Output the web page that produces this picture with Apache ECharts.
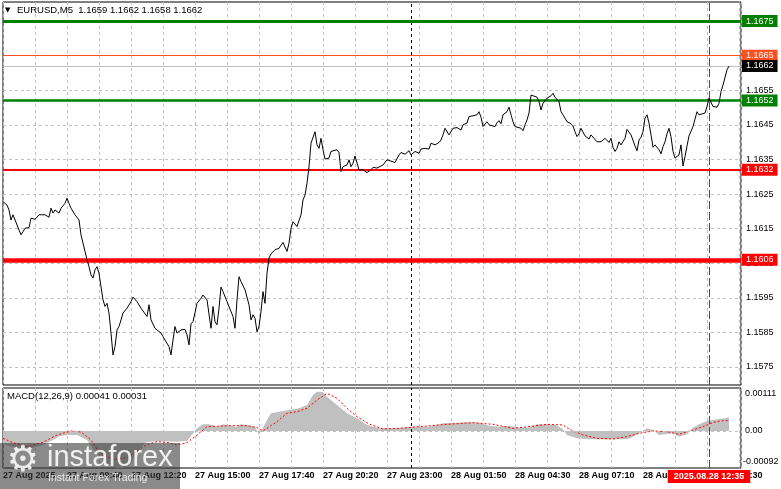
<!DOCTYPE html>
<html><head><meta charset="utf-8">
<script src="https://cdn.jsdelivr.net/npm/echarts@6/dist/echarts.min.js"></script>
<style>html,body{margin:0;padding:0;background:#fff}#c{width:781px;height:489px}</style>
</head><body><div id="c"></div>
<script>
// ---------- data ----------
const symbolTitle = 'EURUSD,M5  1.1659 1.1662 1.1658 1.1662';
const macdTitle = 'MACD(12,26,9) 0.00041 0.00031';
const timeLabels = ['27 Aug 2025','27 Aug 09:40','27 Aug 12:20','27 Aug 15:00','27 Aug 17:40','27 Aug 20:20','27 Aug 23:00','28 Aug 01:50','28 Aug 04:30','28 Aug 07:10','28 Aug 09:50','28 Aug 12:30'];
const barsPerLabel = 32;
const priceTicks = [1.1575,1.1585,1.1595,1.1605,1.1615,1.1625,1.1635,1.1645,1.1655,1.1665,1.1675];
const levelPrices = [1.1675,1.1665,1.1662,1.1652,1.1632,1.1606];
const levelLabels = ['1.1675','1.1665','1.1662','1.1652','1.1632','1.1606'];
const macdTicks = [0.00111,0,-0.00092];
const macdTickLabels = ['0.00111','0.00','-0.00092'];
const daySeparatorBar = 204;
const markerBar = 353;
const markerLabel = '2025.08.28 12:35';

const priceBars = [0,2,3,4,5,6,8,9,10,11,
13,14,16,18,19,21,23,24,25,26,
28,29,31,32,33,34,36,37,38,39,
40,41,42,43,44,45,46,47,48,49,
50,51,52,53,54,55,56,57,58,59,
60,62,64,65,67,69,70,72,73,74,
76,77,79,80,81,83,84,85,86,87,
89,90,91,92,93,94,95,97,99,100,
102,103,104,105,106,107,108,109,110,112,
113,115,116,117,118,119,121,123,124,125,
126,127,128,129,130,131,132,133,134,136,
138,139,140,142,143,144,145,147,149,150,
151,152,153,154,155,156,157,158,159,160,
161,163,164,165,167,168,169,170,172,173,
174,175,176,178,179,180,182,184,185,187,
188,190,192,193,196,198,199,201,203,204,
206,208,209,211,213,214,216,218,219,220,
221,222,223,225,227,229,230,232,233,234,
235,237,238,239,240,242,243,244,246,247,
248,249,250,252,253,254,255,256,257,259,
260,261,262,263,264,265,267,268,269,270,
272,273,274,275,276,278,279,280,281,282,
284,285,286,287,288,289,291,292,293,294,
295,297,299,300,301,303,304,305,306,307,
308,309,311,312,313,314,316,317,318,319,
320,321,322,323,324,325,326,328,329,330,
331,332,333,334,335,336,338,339,340,341,
342,343,344,345,347,348,349,351,352,353,
355,357,358,359,360,362,363];
const priceClose = [1.16228,1.16218,1.16204,1.16175,1.16190,1.16185,1.16146,1.16132,1.16141,1.16151,
1.16153,1.16180,1.16177,1.16190,1.16185,1.16190,1.16183,1.16209,1.16195,1.16204,
1.16195,1.16209,1.16223,1.16238,1.16223,1.16209,1.16190,1.16193,1.16175,1.16132,
1.16127,1.16084,1.16060,1.16040,1.16016,1.16007,1.16031,1.16040,1.16021,1.15982,
1.15944,1.15925,1.15934,1.15906,1.15848,1.15785,1.15809,1.15857,1.15867,1.15886,
1.15906,1.15920,1.15939,1.15952,1.15939,1.15920,1.15915,1.15896,1.15930,1.15886,
1.15862,1.15867,1.15848,1.15838,1.15828,1.15809,1.15785,1.15828,1.15867,1.15848,
1.15857,1.15852,1.15859,1.15843,1.15814,1.15875,1.15881,1.15934,1.15949,1.15958,
1.15944,1.15949,1.15862,1.15925,1.15881,1.15872,1.15920,1.15981,1.15968,1.15939,
1.15936,1.15896,1.15862,1.15944,1.16011,1.15997,1.15973,1.15930,1.15886,1.15901,
1.15891,1.15852,1.15867,1.15910,1.15968,1.15934,1.16021,1.16065,1.16077,1.16089,
1.16093,1.16098,1.16110,1.16084,1.16108,1.16151,1.16170,1.16156,1.16190,1.16233,
1.16247,1.16281,1.16329,1.16397,1.16401,1.16430,1.16392,1.16382,1.16411,1.16378,
1.16351,1.16354,1.16373,1.16373,1.16378,1.16370,1.16315,1.16329,1.16334,1.16349,
1.16329,1.16339,1.16360,1.16320,1.16315,1.16320,1.16312,1.16320,1.16327,1.16325,
1.16330,1.16334,1.16349,1.16354,1.16341,1.16363,1.16370,1.16365,1.16375,1.16363,
1.16373,1.16368,1.16380,1.16382,1.16380,1.16397,1.16392,1.16399,1.16406,1.16421,
1.16440,1.16435,1.16421,1.16440,1.16442,1.16435,1.16450,1.16455,1.16474,1.16479,
1.16476,1.16479,1.16488,1.16472,1.16445,1.16459,1.16450,1.16450,1.16445,1.16456,
1.16462,1.16453,1.16479,1.16488,1.16501,1.16479,1.16459,1.16445,1.16450,1.16440,
1.16433,1.16450,1.16464,1.16484,1.16536,1.16541,1.16530,1.16517,1.16493,1.16512,
1.16527,1.16524,1.16534,1.16541,1.16530,1.16517,1.16488,1.16479,1.16469,1.16459,
1.16453,1.16447,1.16430,1.16416,1.16424,1.16440,1.16418,1.16421,1.16409,1.16421,
1.16416,1.16401,1.16401,1.16401,1.16411,1.16399,1.16411,1.16385,1.16373,1.16382,
1.16401,1.16392,1.16411,1.16437,1.16435,1.16421,1.16389,1.16375,1.16406,1.16414,
1.16430,1.16469,1.16479,1.16455,1.16421,1.16385,1.16392,1.16378,1.16366,1.16387,
1.16401,1.16424,1.16440,1.16416,1.16373,1.16354,1.16363,1.16392,1.16331,1.16358,
1.16389,1.16418,1.16421,1.16445,1.16488,1.16479,1.16474,1.16484,1.16503,1.16527,
1.16503,1.16501,1.16512,1.16546,1.16565,1.16609,1.16620];

const histBars = [0,5,10,15,20,25,28,32,37,42,44,48,53,58,63,66,70,72,78,86,92,94,97,100,103,107,110,113,117,119,122,126,128,130,132,134,138,143,148,152,155,157,160,162,165,168,172,177,182,188,197,205,213,220,227,233,238,243,248,253,258,263,267,272,276,278,280,282,287,293,303,312,315,318,322,325,328,335,338,342,345,348,352,355,358,361,363];
const histValues = [-0.00040,-0.00048,-0.00052,-0.00050,-0.00042,-0.00027,-0.00016,-0.00012,-0.00012,-0.00027,-0.00045,-0.00075,-0.00100,-0.00115,-0.00105,-0.00075,-0.00042,-0.00033,-0.00030,-0.00032,-0.00030,-0.00015,0.00008,0.00020,0.00020,0.00013,0.00020,0.00016,0.00013,0.00020,0.00018,0.00013,-0.00012,0.00010,0.00033,0.00053,0.00058,0.00063,0.00068,0.00078,0.00108,0.00118,0.00117,0.00103,0.00088,0.00073,0.00053,0.00038,0.00018,0.00008,0.00008,0.00013,0.00013,0.00023,0.00025,0.00026,0.00025,0.00016,0.00013,0.00016,0.00010,0.00010,0.00020,0.00020,0.00018,0.00013,0.00005,-0.00012,-0.00022,-0.00025,-0.00025,-0.00025,-0.00017,-0.00007,0.00008,0.00003,-0.00012,-0.00007,-0.00017,-0.00010,0.00010,0.00020,0.00030,0.00033,0.00036,0.00038,0.00041];

const signalBars = [0,5,12,20,27,34,39,44,48,55,62,66,72,77,82,87,92,97,102,113,122,127,130,137,142,147,152,157,162,167,172,177,183,190,198,208,222,235,245,255,263,272,280,283,290,297,305,312,318,325,332,338,345,350,355,360,363];
const signalValues = [-0.00022,-0.00035,-0.00047,-0.00034,-0.00012,0.00000,-0.00003,-0.00027,-0.00063,-0.00085,-0.00080,-0.00065,-0.00040,-0.00032,-0.00034,-0.00042,-0.00035,-0.00012,0.00013,0.00016,0.00016,0.00010,0.00000,0.00028,0.00053,0.00058,0.00068,0.00093,0.00113,0.00098,0.00068,0.00043,0.00021,0.00006,0.00008,0.00013,0.00020,0.00025,0.00020,0.00008,0.00013,0.00020,0.00018,0.00006,-0.00012,-0.00022,-0.00024,-0.00017,-0.00007,0.00000,-0.00002,-0.00010,0.00003,0.00013,0.00026,0.00031,0.00031];

// ---------- styles ----------
const FONT = '"Liberation Sans", Arial, sans-serif';
const levelStyles = [
  {color:'#008000', width:3,   bg:'#008000'},
  {color:'#ff5020', width:1,   bg:'#ff5020'},
  {color:'#c0c0c0', width:1,   bg:'#000000'},
  {color:'#008000', width:2.5, bg:'#008000'},
  {color:'#ff0000', width:2,   bg:'#ff0000'},
  {color:'#ff0000', width:4.5, bg:'#ff0000'}
];
const zip = (xs, ys) => xs.slice(0, Math.min(xs.length, ys.length)).map((x, i) => [x, ys[i]]);
const priceData = zip(priceBars, priceClose);
const histData = zip(histBars, histValues);
const gridDash = {color:'#c0c0c0', type:[3,3], width:1};
const hiddenLine = {opacity:0, width:0};
const tickLabelStyle = {show:true, position:'end', distance:5, color:'#000', fontSize:9, fontFamily:FONT};

const chart = echarts.init(document.getElementById('c'), null, {renderer:'canvas'});
const option = {
  animation:false,
  textStyle:{fontFamily:FONT},
  title:[
    {text:symbolTitle, left:17, top:5, padding:0, textStyle:{fontSize:9.5, fontWeight:'normal', color:'#000', fontFamily:FONT}},
    {text:macdTitle, left:7, top:391, padding:0, textStyle:{fontSize:9.5, fontWeight:'normal', color:'#000', fontFamily:FONT}}
  ],
  grid:[
    {left:3, right:40, top:2, height:383, show:true, borderColor:'#000', borderWidth:1, backgroundColor:'#fff'},
    {left:3, right:40, top:388, height:80, show:true, borderColor:'#000', borderWidth:1, backgroundColor:'#fff'}
  ],
  xAxis:[
    {type:'value', gridIndex:0, min:0, max:369, interval:16, axisLine:{show:false}, axisTick:{show:false}, axisLabel:{show:false}, splitLine:{show:true, lineStyle:gridDash}},
    {type:'value', gridIndex:1, min:0, max:369, interval:16, axisLine:{show:false}, axisTick:{show:false},
     axisLabel:{show:true, align:'left', margin:3, fontSize:9, fontWeight:'bold', color:'#000', fontFamily:FONT, showMaxLabel:false,
       formatter:(v)=>{const i=v/barsPerLabel; return (Number.isInteger(i) && timeLabels[i]) ? timeLabels[i] : '';}},
     splitLine:{show:true, lineStyle:gridDash}}
  ],
  yAxis:[
    {type:'value', gridIndex:0, min:1.15698, max:1.16805, axisLine:{show:false}, axisTick:{show:false}, axisLabel:{show:false}, splitLine:{show:false}},
    {type:'value', gridIndex:1, min:-0.00111, max:0.00129, axisLine:{show:false}, axisTick:{show:false}, axisLabel:{show:false}, splitLine:{show:false}}
  ],
  series:[
    { // price grid lines + tick labels (carrier series, invisible line)
      type:'line', xAxisIndex:0, yAxisIndex:0, data:priceData, z:2, silent:true, symbol:'none', lineStyle:hiddenLine,
      markLine:{silent:true, precision:6, symbol:['none','none'], animation:false,
        data: priceTicks.map(p=>({yAxis:p, lineStyle:gridDash, label:Object.assign({}, tickLabelStyle, {formatter:p.toFixed(4)})}))}
    },
    { // vertical separators, main panel
      type:'line', xAxisIndex:0, yAxisIndex:0, data:priceData, z:3, silent:true, symbol:'none', lineStyle:hiddenLine,
      markLine:{silent:true, precision:6, symbol:['none','none'], animation:false, label:{show:false},
        data:[
          {xAxis:daySeparatorBar, lineStyle:{color:'#000', type:[3,3], width:1}},
          {xAxis:markerBar, lineStyle:{color:'#ff0000', type:[8,3], width:1}}
        ]}
    },
    { // levels
      type:'line', xAxisIndex:0, yAxisIndex:0, data:priceData, z:4, silent:true, symbol:'none', lineStyle:hiddenLine,
      markLine:{silent:true, precision:6, symbol:['none','none'], animation:false,
        data: levelPrices.map((p,i)=>({yAxis:p, lineStyle:{color:levelStyles[i].color, width:levelStyles[i].width, type:'solid'},
          label:{show:true, position:'end', distance:1, formatter:levelLabels[i], color:'#fff', backgroundColor:levelStyles[i].bg,
            padding:[1,4,1,4], fontSize:9, lineHeight:10, fontFamily:FONT}}))}
    },
    { // price
      name:'EURUSD', type:'line', xAxisIndex:0, yAxisIndex:0, z:5, symbol:'none', silent:true,
      lineStyle:{color:'#000', width:1}, data:priceData
    },
    { // MACD histogram
      name:'MACD', type:'line', xAxisIndex:1, yAxisIndex:1, z:2, symbol:'none', silent:true,
      lineStyle:{width:0, color:'#c0c0c0'}, areaStyle:{color:'#c0c0c0', opacity:1}, data:histData
    },
    { // MACD zero line + separators (carrier series, invisible line)
      type:'line', xAxisIndex:1, yAxisIndex:1, data:histData, z:3, silent:true, symbol:'none', lineStyle:hiddenLine,
      markLine:{silent:true, precision:8, symbol:['none','none'], animation:false,
        data:[
          {yAxis:0, lineStyle:gridDash, label:{show:false}},
          {xAxis:daySeparatorBar, lineStyle:{color:'#000', type:[3,3], width:1}, label:{show:false}},
          {xAxis:markerBar, lineStyle:{color:'#ff0000', type:[8,3], width:1},
           label:{show:true, position:'start', distance:2, formatter:markerLabel, color:'#fff', backgroundColor:'#ff0000',
             padding:[2,6,2,6], fontSize:9, fontWeight:'bold', fontFamily:FONT}}
        ]}
    },
    { // MACD scale labels (carrier series)
      type:'line', xAxisIndex:1, yAxisIndex:1, data:histData, z:3, silent:true, symbol:'none', lineStyle:hiddenLine,
      markLine:{silent:true, precision:8, symbol:['none','none'], animation:false,
        data: macdTicks.map((v,i)=>({yAxis:v, lineStyle:{color:'rgba(255,255,255,0)', width:1},
          label:Object.assign({}, tickLabelStyle, {formatter:macdTickLabels[i], distance: v < 0 ? 2 : 4})}))}
    },
    { // signal
      name:'Signal', type:'line', xAxisIndex:1, yAxisIndex:1, z:4, symbol:'none', silent:true,
      lineStyle:{color:'#ff0000', width:1, type:[2,2]}, data:zip(signalBars, signalValues)
    }
  ],
  graphic:[
    {type:'text', x:5, y:10, z:50, style:{text:'▼', fontSize:7, fill:'#000', verticalAlign:'middle', fontFamily:'DejaVu Sans'}},
    {type:'rect', z:100, shape:{x:0, y:443, width:180, height:46}, style:{fill:'rgba(56,56,56,0.59)'}},
    {type:'text', z:101, x:23, y:462, style:{text:'⚙', fontSize:36, fill:'rgba(255,255,255,0.85)', align:'center', verticalAlign:'middle', fontFamily:'DejaVu Sans'}},
    {type:'text', z:101, x:47, y:458, style:{text:'instaforex', fontSize:29, fill:'rgba(255,255,255,0.88)', verticalAlign:'middle', fontFamily:FONT}},
    {type:'text', z:101, x:48, y:478, style:{text:'Instant Forex Trading', fontSize:10.5, fill:'rgba(255,255,255,0.8)', verticalAlign:'middle', fontFamily:FONT}}
  ]
};
chart.setOption(option);
</script>
</body></html>
